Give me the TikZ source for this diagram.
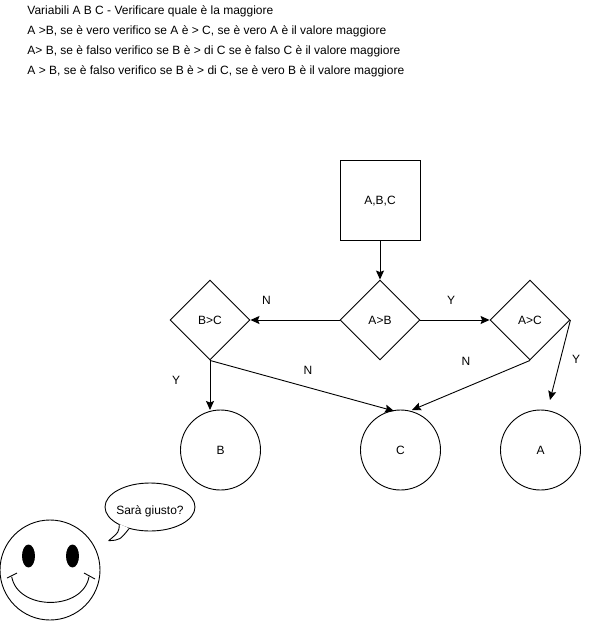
\documentclass[tikz,border=0pt]{standalone}
\usepackage{fontspec}
\setmainfont{Liberation Sans}
\usetikzlibrary{arrows.meta,shapes.geometric}
\tikzset{
  textline/.style={anchor=west,inner sep=0pt,text height=9pt,text depth=0pt,font=\fontsize{12}{14}\selectfont},
  shapelabel/.style={align=center,text height=9pt,text depth=0pt,font=\fontsize{12}{14}\selectfont},
  boxnode/.style={shapelabel,draw,minimum width=80pt,minimum height=80pt,inner sep=0pt},
  decision/.style={shapelabel,draw,diamond,minimum width=80pt,minimum height=80pt,inner sep=0pt},
  result/.style={shapelabel,draw,circle,minimum size=80pt,inner sep=0pt},
  eye/.style={draw,fill=black,ellipse,minimum width=12pt,minimum height=22pt,inner sep=0pt},
  edgelabel/.style={inner sep=0pt,text height=9pt,text depth=0pt,font=\fontsize{12}{14}\selectfont},
}
\begin{document}
\begin{tikzpicture}[x=1pt,y=-1pt,line width=.9pt,>={Stealth[length=9pt,width=8pt,inset=1.5pt]}]
      \useasboundingbox (0,0) rectangle (591,621);
      \node[textline] (title) at (27,10) {Variabili A B C - Verificare quale è la maggiore};
      \node[textline] (ruleone) at (27,30) {A >B, se è vero verifico se A è > C, se è vero A è il valore maggiore};
      \node[textline] (ruletwo) at (27,50) {A> B, se è falso verifico se B è > di C se è falso C è il valore maggiore};
      \node[textline] (rulethree) at (27,70) {A > B, se è falso verifico se B è > di C, se è vero B è il valore maggiore};
      \node[boxnode] (input) at (380,200) {A,B,C};
      \node[decision] (ab) at (380,320) {A>B};
      \node[decision] (bc) at (210,320) {B>C};
      \node[decision] (ac) at (530,320) {A>C};
      \node[result] (resb) at (220.5,450) {B};
      \node[result] (resc) at (400.5,450) {C};
      \node[result] (resa) at (540.5,450) {A};
      \coordinate (intob) at (210,410);
      \coordinate (intoc) at (394,411);
      \coordinate (intocr) at (412,410);
      \coordinate (intoa) at (550,400);
      \draw[->] (input) -- (ab);
      \draw[->] (ab) -- (bc);
      \draw[->] (ab) -- (ac);
      \draw[->] (bc.south) -- (intob);
      \draw[->] (bc.south) -- (intoc);
      \draw[->] (ac.south) -- (intocr);
      \draw[->] (ac.east) -- (intoa);
      \node[edgelabel] (labn) at (266.5,300) {N};
      \node[edgelabel] (laby) at (451,300) {Y};
      \node[edgelabel] (lbcy) at (176,380) {Y};
      \node[edgelabel] (lbcn) at (308,370) {N};
      \node[edgelabel] (lacn) at (466,361) {N};
      \node[edgelabel] (lacy) at (576,359) {Y};
      % smiley
      \node[draw,circle,minimum size=100pt,inner sep=0pt] (face) at (50,570) {};
      \node[eye] (eyeleft) at (28.5,556) {};
      \node[eye] (eyeright) at (72.5,556) {};
      \coordinate (smileleft) at (11.7,576.7);
      \coordinate (smileright) at (89,576.7);
      \draw (smileleft) .. controls (18,611) and (83,611) .. (smileright);
      \draw (7,578) -- (17,573);
      \draw (84,573) -- (95,579);
      % speech bubble
      \node[draw,ellipse,minimum width=90pt,minimum height=48pt,inner sep=0pt] (bubble) at (150,507) {};
      \node[shapelabel,inner sep=0pt] (bubbletext) at (150,510) {Sarà giusto?};
      \coordinate (tailtip) at (108.7,540.7);
      \coordinate (tailone) at (119.3,524);
      \coordinate (tailtwo) at (129.3,528.3);
      \fill[white] (tailone) -- (tailtip) -- (tailtwo) -- cycle;
      \draw (tailone) .. controls (119,532) .. (tailtip);
      \draw (tailtip) .. controls (120,540) .. (tailtwo);
\end{tikzpicture}
\end{document}
